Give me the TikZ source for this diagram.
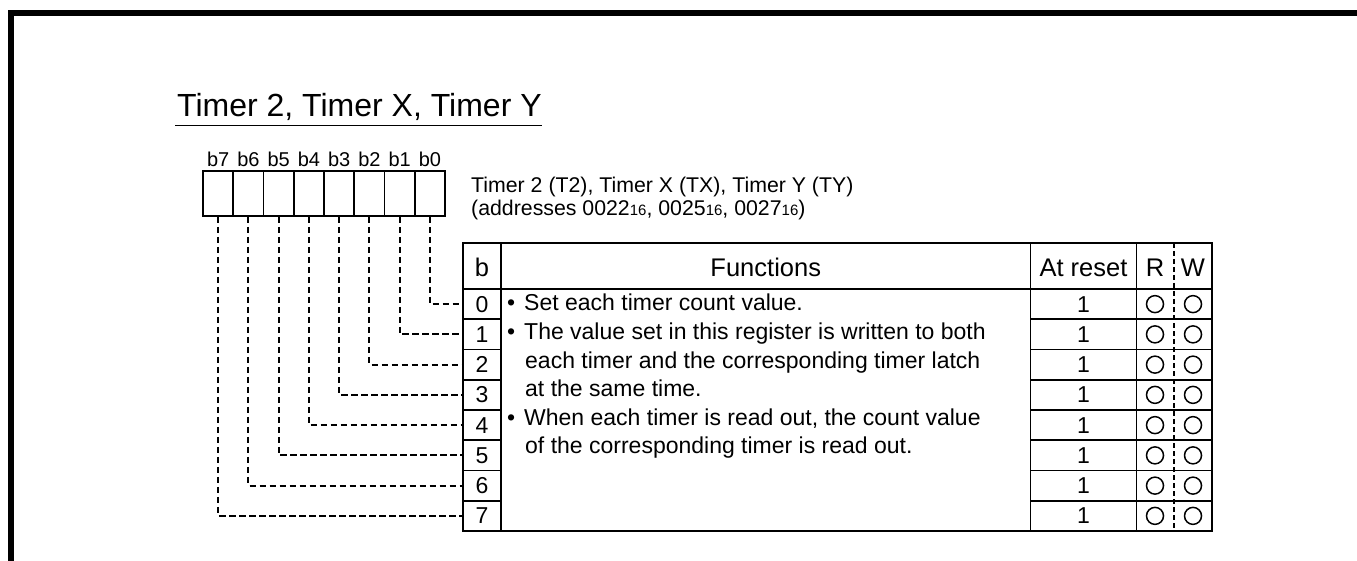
\documentclass[tikz,border=0pt]{standalone}
\usepackage{fontspec}
\setmainfont{Liberation Sans}
\newcommand\myTitle{\fontsize{32}{36}\selectfont}
\newcommand\myBit{\fontsize{20}{22}\selectfont}
\newcommand\mySub{\fontsize{21.3}{24}\selectfont}
\newcommand\mySmall{\fontsize{15}{16}\selectfont}
\newcommand\myTab{\fontsize{23}{28}\selectfont}
\newcommand\myHead{\fontsize{25.5}{28}\selectfont}
\begin{document}
\begin{tikzpicture}[x=1pt,y=-1pt,
  tline/.style={line width=1.8pt},
  conn/.style={line width=1.8pt, dash pattern=on 6.5pt off 3.5pt},
  lbl/.style={inner sep=0pt, anchor=base},
  lblw/.style={inner sep=0pt, anchor=base west},
  bitbox/.style={draw, line width=1.8pt, minimum width=30.25pt, minimum height=45pt, inner sep=0pt},
  cell/.style={draw, line width=1.8pt, minimum width=38pt, minimum height=30.25pt, inner sep=0pt},
  circ/.style={draw, circle, line width=1.5pt, minimum size=17pt, inner sep=0pt},
]
\useasboundingbox (0,0) rectangle (1357,561);
\fill[white] (0,0) rectangle (1357,561);
% frame
\draw[line width=6pt] (11.3,575) -- (11.3,12.8) -- (1375,12.8);
% title
\node[lblw, font=\myTitle] (title) at (177,116.7) {Timer 2, Timer X, Timer Y};
\coordinate (ulA) at (175,125.3);
\coordinate (ulB) at (541.7,125.3);
\draw[line width=1.5pt] (ulA) -- (ulB);
% subtitle
\node[lblw, font=\mySub] (sub1) at (471,193) {Timer 2 (T2), Timer X (TX), Timer Y (TY)};
\node[lblw, font=\mySub] (sub2) at (471,216) {(addresses 0022{\mySmall 16}, 0025{\mySmall 16}, 0027{\mySmall 16})};
% table frame
\draw[tline] (463,243) rectangle (1212,531);
\draw[tline] (463,289) -- (1212,289);
\draw[tline] (501,243) -- (501,531);
\draw[tline] (1030.5,243) -- (1030.5,531);
\draw[tline] (1136.5,243) -- (1136.5,531);
\foreach \k in {1,...,7} {
  \draw[tline] (1030.5,289+30.25*\k) -- (1212,289+30.25*\k);
}
\draw[line width=1.3pt, dash pattern=on 5pt off 3pt] (1174,243) -- (1174,531);
% headers
\node[lbl, font=\myHead] (hb) at (482,277) {b};
\node[lbl, font=\myHead] (hf) at (765.75,277) {Functions};
\node[lbl, font=\myHead] (ha) at (1083.5,277) {At reset};
\node[lbl, font=\myHead] (hr) at (1155,277) {R};
\node[lbl, font=\myHead] (hw) at (1193,277) {W};
% rows
\foreach \i in {0,...,7} {
  \pgfmathsetmacro\bx{218.125+30.25*(7-\i)}
  \pgfmathsetmacro\ry{289+30.25*\i+15.125}
  \node[bitbox] (bx\i) at (\bx,193.5) {};
  \node[lbl, font=\myBit] (bl\i) at (\bx,166.7) {b\i};
  \node[cell] (c\i) at (482,\ry) {};
  \node[lbl, font=\myTab] (d\i) at (482,\ry+8) {\i};
  \node[lbl, font=\myTab] (r\i) at (1083.5,\ry+8) {1};
  \node[circ] (cr\i) at (1155,\ry) {};
  \node[circ] (cw\i) at (1193,\ry) {};
  \draw[conn] (bx\i.south) |- (c\i.west);
}
% function text
\node[lblw, font=\myTab] (fb0) at (507,311) {\textbullet};
\node[lblw, font=\myTab] (f0) at (524,311) {Set each timer count value.};
\node[lblw, font=\myTab] (fb1) at (507,339.5) {\textbullet};
\node[lblw, font=\myTab] (f1) at (524,339.5) {The value set in this register is written to both};
\node[lblw, font=\myTab] (f2) at (525,368) {each timer and the corresponding timer latch};
\node[lblw, font=\myTab] (f3) at (525,396.5) {at the same time.};
\node[lblw, font=\myTab] (fb4) at (507,425) {\textbullet};
\node[lblw, font=\myTab] (f4) at (524,425) {When each timer is read out, the count value};
\node[lblw, font=\myTab] (f5) at (525,453.5) {of the corresponding timer is read out.};
\end{tikzpicture}
\end{document}
